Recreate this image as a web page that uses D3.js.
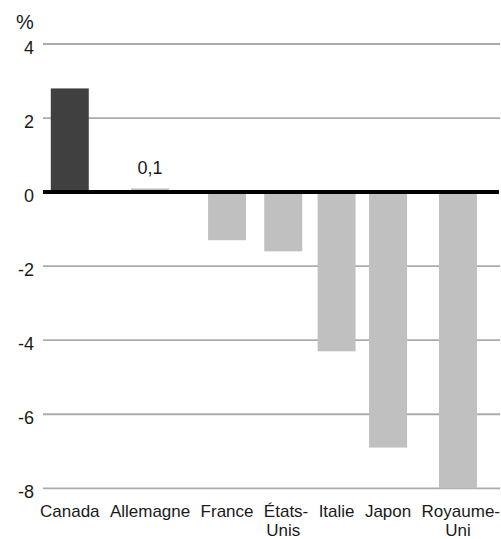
<!DOCTYPE html>
<html>
<head>
<meta charset="utf-8">
<script src="https://cdn.jsdelivr.net/npm/d3@7"></script>
<style>
  body { margin: 0; background: #fff; }
  svg { display: block; font-family: "Liberation Sans", Arial, Helvetica, sans-serif; }
</style>
</head>
<body>
<svg id="chart" width="501" height="539"></svg>
<script>
// Variation in percent, by country
const categories = ["Canada", "Allemagne", "France", "États-Unis", "Italie", "Japon", "Royaume-Uni"];
const values = [2.8, 0.1, -1.3, -1.6, -4.3, -6.9, -8.0];
const highlighted = ["Canada"];
const labelledValues = ["Allemagne"];
const yTicks = [-8, -6, -4, -2, 0, 2, 4];
const yUnit = "%";

const fr = d3.formatLocale({ decimal: ",", thousands: "\u00a0", grouping: [3], currency: ["", " €"], minus: "-" });
const fmtValue = fr.format(".1f");
const fmtTick = fr.format("d");

const svg = d3.select("#chart");
const plotLeft = 43, plotRight = 500;
const labelLeft = 40, labelRight = 500;

const y = d3.scaleLinear().domain([-8, 4]).range([488.3, 44]);

// Horizontal gridlines
svg.append("g")
  .selectAll("line")
  .data(yTicks.filter(d => d !== 0))
  .join("line")
  .attr("x1", plotLeft).attr("x2", plotRight)
  .attr("y1", d => y(d)).attr("y2", d => y(d))
  .attr("stroke", "#ababab")
  .attr("stroke-width", 1.8);

// Y tick labels
svg.append("g")
  .selectAll("text")
  .data(yTicks)
  .join("text")
  .attr("x", 34)
  .attr("y", d => y(d) + 9.5)
  .attr("text-anchor", "end")
  .attr("font-size", 18)
  .attr("fill", "#1a1a1a")
  .text(d => fmtTick(d));

// Unit label
svg.append("text")
  .attr("x", 16)
  .attr("y", 28.5)
  .attr("font-size", 20)
  .attr("fill", "#1a1a1a")
  .text(yUnit);

// Category labels: break after a hyphen, laid out side by side
const splitLabel = name => {
  const i = name.indexOf("-");
  return i < 0 ? [name] : [name.slice(0, i + 1), name.slice(i + 1)];
};

const labels = svg.append("g")
  .attr("font-size", 17)
  .attr("fill", "#1a1a1a")
  .selectAll("text")
  .data(categories)
  .join("text")
  .attr("y", 517);

labels.selectAll("tspan")
  .data(d => splitLabel(d))
  .join("tspan")
  .attr("x", 0)
  .attr("dy", (d, i) => i === 0 ? 0 : 19)
  .text(d => d);

// Slot width = widest line; the visual centre ignores a trailing break hyphen
const hyphenWidth = (() => {
  const t = svg.append("text").attr("font-size", 17).text("-");
  const w = t.node().getComputedTextLength();
  t.remove();
  return w;
})();
const slots = labels.nodes().map(t => {
  const spans = Array.from(t.querySelectorAll("tspan"));
  const ws = spans.map(s => s.getComputedTextLength());
  const w = d3.max(ws);
  const first = spans[0].textContent;
  const ink = (spans.length > 1 && ws[0] === w && first.endsWith("-")) ? w - hyphenWidth : w;
  return { w, ink, lines: ws };
});
const gap = (labelRight - labelLeft - d3.sum(slots, s => s.w)) / (categories.length - 1);
const centers = [];
let cursor = labelLeft;
slots.forEach(s => { s.left = cursor; centers.push(cursor + s.ink / 2); cursor += s.w + gap; });

const x = d3.scaleOrdinal().domain(categories).range(centers);

// First line starts at the slot's left edge; following lines are centred on the word
labels.each(function (d, i) {
  const s = slots[i];
  d3.select(this).selectAll("tspan")
    .attr("x", (t, j) => j === 0 ? s.left : x(d) - s.lines[j] / 2);
});

// Bars
const barWidth = 38;
const rows = categories.map((c, i) => ({ category: c, value: values[i] }));

svg.append("g")
  .selectAll("rect")
  .data(rows)
  .join("rect")
  .attr("x", d => x(d.category) - barWidth / 2)
  .attr("width", barWidth)
  .attr("y", d => y(Math.max(0, d.value)))
  .attr("height", d => Math.abs(y(d.value) - y(0)))
  .attr("fill", d => highlighted.includes(d.category) ? "#404040" : "#c0c0c0");

// Zero line
svg.append("line")
  .attr("x1", plotLeft).attr("x2", plotRight - 1)
  .attr("y1", y(0)).attr("y2", y(0))
  .attr("stroke", "#000")
  .attr("stroke-width", 4);

// Value labels
svg.append("g")
  .selectAll("text")
  .data(rows.filter(d => labelledValues.includes(d.category)))
  .join("text")
  .attr("x", d => x(d.category))
  .attr("y", d => y(Math.max(0, d.value)) - 14)
  .attr("text-anchor", "middle")
  .attr("font-size", 18)
  .attr("fill", "#1a1a1a")
  .text(d => fmtValue(d.value));
</script>
</body>
</html>
